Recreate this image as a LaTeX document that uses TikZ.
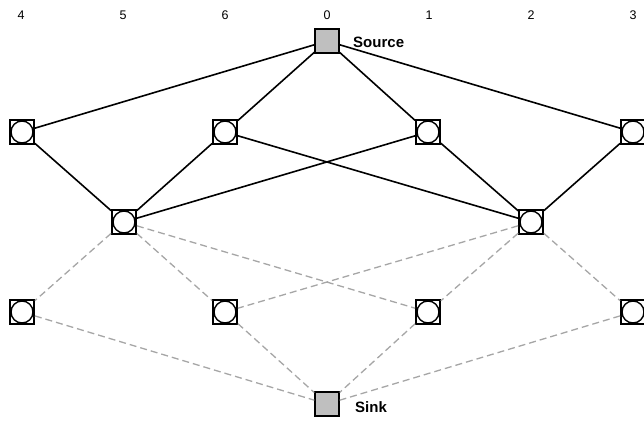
\documentclass[tikz,border=0pt]{standalone}
\usepackage{fontspec}
\setmainfont{Liberation Sans}
\usetikzlibrary{positioning}

\begin{document}
\begin{tikzpicture}[
  x=1pt, y=-1pt,
  cell/.style={draw, line width=1.8pt, fill=white, minimum size=24pt, inner sep=0pt,
    path picture={\draw[line width=1.4pt] (path picture bounding box.center) circle (11pt);}},
  terminal/.style={draw, line width=1.4pt, fill=gray!50, minimum size=24pt, inner sep=0pt},
  collabel/.style={font=\fontsize{12.5}{14}\selectfont},
  termlabel/.style={font=\fontsize{15}{17}\selectfont\bfseries},
  usededge/.style={line width=1.6pt},
  openedge/.style={gray!70, line width=1.3pt, dash pattern=on 7pt off 4pt},
]
  \useasboundingbox (0,0) rectangle (644,421);

  % Column numbers along the top
  \foreach \xx/\lbl in {21/4, 123/5, 225/6, 327/0, 429/1, 531/2, 633/3}
    \node[collabel] at (\xx,15) {\lbl};

  % Source and sink
  \node[terminal] (src) at (327,41) {};
  \node[termlabel, right=10pt of src.east, anchor=west, yshift=-1pt] {Source};
  \node[terminal] (snk) at (327,404) {};
  \node[termlabel, right=12pt of snk.east, anchor=west, yshift=-3pt] {Sink};

  % Layer 1
  \node[cell] (a4) at (22,132) {};
  \node[cell] (a6) at (225,132) {};
  \node[cell] (a1) at (428,132) {};
  \node[cell] (a3) at (633,132) {};

  % Layer 2
  \node[cell] (b5) at (124,222) {};
  \node[cell] (b2) at (531,222) {};

  % Layer 3
  \node[cell] (c4) at (22,312) {};
  \node[cell] (c6) at (225,312) {};
  \node[cell] (c1) at (428,312) {};
  \node[cell] (c3) at (633,312) {};

  % Solid edges
  \foreach \n in {a4, a6, a1, a3}
    \draw[usededge] (src) -- (\n);
  \draw[usededge] (a4) -- (b5);
  \draw[usededge] (a6) -- (b5);
  \draw[usededge] (a1) -- (b5);
  \draw[usededge] (a6) -- (b2);
  \draw[usededge] (a1) -- (b2);
  \draw[usededge] (a3) -- (b2);

  % Dashed edges
  \foreach \n in {c4, c6, c1}
    \draw[openedge] (b5) -- (\n);
  \foreach \n in {c6, c1, c3}
    \draw[openedge] (b2) -- (\n);
  \foreach \n in {c4, c6, c1, c3}
    \draw[openedge] (\n) -- (snk);
\end{tikzpicture}
\end{document}
